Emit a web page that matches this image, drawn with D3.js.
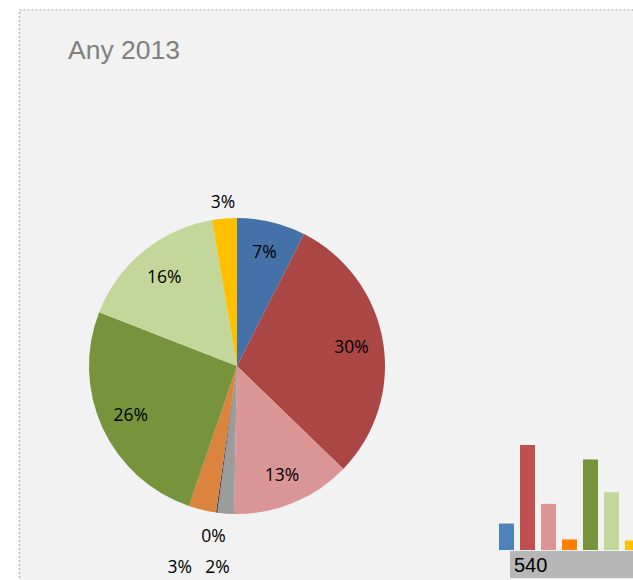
<!DOCTYPE html>
<html>
<head>
<meta charset="utf-8">
<script src="https://cdn.jsdelivr.net/npm/d3@7"></script>
<style>
  body { margin: 0; background: #fff; }
  svg { display: block; }
</style>
</head>
<body>
<svg width="633" height="580"></svg>
<script>
// pie slices, clockwise from 12 o'clock
const sliceValues = [7.5, 29.8, 13.1, 1.8, 0.15, 3.0, 25.7, 16.4, 2.7]
const sliceLabels = ['7%', '30%', '13%', '2%', '0%', '3%', '26%', '16%', '3%']
const sliceColors = ['#4472a8', '#aa4644', '#da9694', '#9c9c9c', '#3f3f3f', '#db843d', '#77933c', '#c4d79b', '#ffc000']
// how far out each label sits, in px from the centre (small slices pushed out)
const labelRadius = [118, 116, 118, 201, 171, 206, 117, 115, 165]
// extra sideways nudge for the crowded labels under the pie
const labelNudge = [0, 0, 0, -4, 0, -9, 0, 0, 0]

// the clipped bar chart peeking in at the lower right
const barValues = [7.5, 29.8, 13.1, 3.0, 25.7, 16.4, 2.7]
const barColors = ['#4f81bd', '#c0504d', '#d99694', '#ff8000', '#77933c', '#c3d69b', '#ffc000']
const boxLabel = '540'

const svg = d3.select('svg')

svg.append('rect')
    .attr('x', 19.5).attr('y', 10)
    .attr('width', 700).attr('height', 700)
    .attr('fill', '#f2f2f2')
    .attr('stroke', '#bcbcbc')
    .attr('stroke-width', 1.5)
    .attr('stroke-dasharray', '2,2')

svg.append('text')
    .attr('x', 68).attr('y', 59)
    .attr('font-family', 'Liberation Sans, Arial, sans-serif')
    .attr('font-size', 26.5)
    .attr('fill', '#808080')
    .text('Any 2013')

const cx = 237, cy = 366, R = 148

const pie = d3.pie().sort(null).value(d => d)
const arcs = pie(sliceValues)
const arc = d3.arc().innerRadius(0).outerRadius(R)

const g = svg.append('g').attr('transform', `translate(${cx},${cy})`)

g.selectAll('path')
    .data(arcs)
  .enter().append('path')
    .attr('d', arc)
    .attr('fill', (d, i) => sliceColors[i])

g.selectAll('text')
    .data(arcs)
  .enter().append('text')
    .attr('transform', (d, i) => {
      const r = labelRadius[i]
      const a = (d.startAngle + d.endAngle) / 2
      return `translate(${Math.sin(a) * r + labelNudge[i]},${-Math.cos(a) * r})`
    })
    .attr('text-anchor', 'middle')
    .attr('dy', '0.36em')
    .attr('font-family', 'Open Sans, Liberation Sans, sans-serif')
    .attr('font-size', 17.5)
    .attr('fill', '#000')
    .text((d, i) => sliceLabels[i])

// bars
const baseY = 550
const x = d3.scaleBand()
    .domain(d3.range(barValues.length))
    .range([496, 496 + 21 * barValues.length])
    .paddingInner(6 / 21)
    .paddingOuter(3 / 21)
const y = d3.scaleLinear()
    .domain([0, d3.max(barValues)])
    .range([0, 105])

svg.selectAll('.bar')
    .data(barValues)
  .enter().append('rect')
    .attr('class', 'bar')
    .attr('x', (d, i) => x(i))
    .attr('width', x.bandwidth())
    .attr('y', d => baseY - y(d))
    .attr('height', d => y(d))
    .attr('fill', (d, i) => barColors[i])

svg.append('rect')
    .attr('x', 510).attr('y', 551)
    .attr('width', 200).attr('height', 27)
    .attr('fill', '#b7b7b7')

svg.append('text')
    .attr('x', 514).attr('y', 572)
    .attr('font-family', 'Liberation Sans, Arial, sans-serif')
    .attr('font-size', 20)
    .attr('fill', '#000')
    .text(boxLabel)
</script>
</body>
</html>
